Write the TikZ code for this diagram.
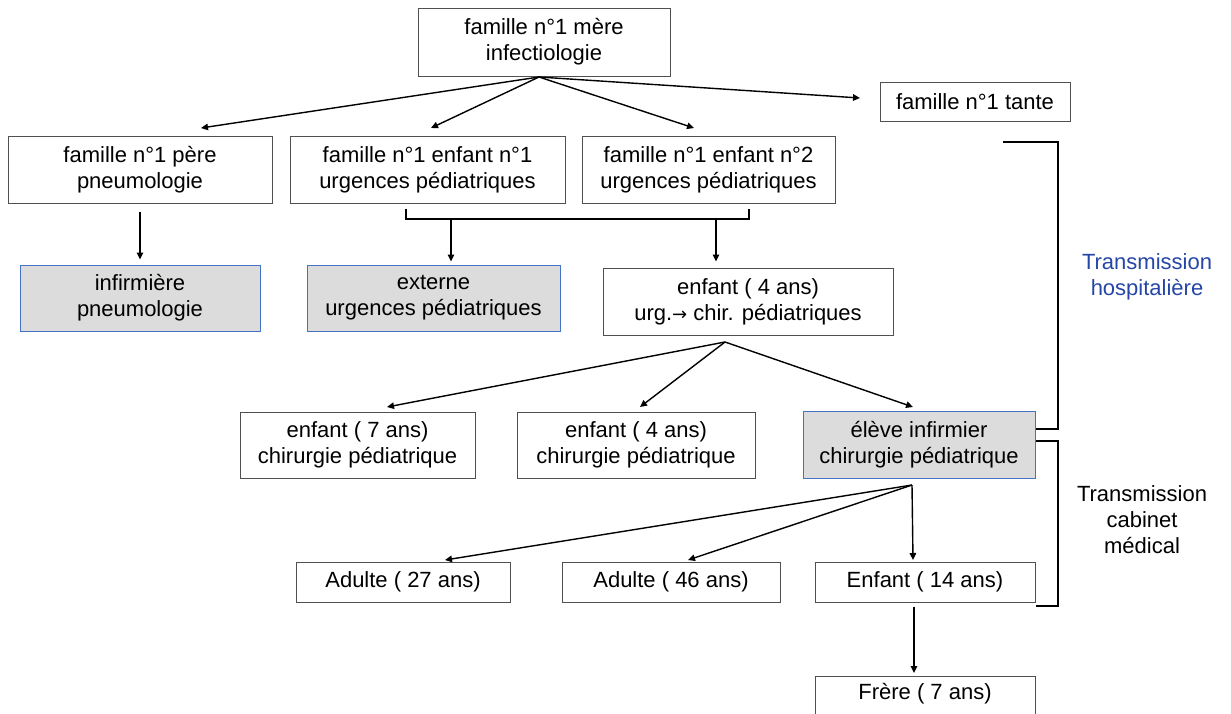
\documentclass[tikz,border=0pt]{standalone}
\usepackage{fontspec}
\setmainfont{Liberation Sans}
\newfontfamily\symfont{DejaVu Sans}
\usepackage{xcolor}
\usetikzlibrary{arrows.meta,positioning,calc}
\definecolor{boxgray}{HTML}{505050}
\definecolor{boxblue}{HTML}{4472C4}
\definecolor{boxfill}{HTML}{DCDCDC}
\definecolor{transblue}{HTML}{2546A6}

\begin{document}
\begin{tikzpicture}[
  x=1pt,y=-1pt,
  box/.style={draw=boxgray,line width=1pt,fill=white,align=center,inner sep=0pt,font=\fontsize{22}{26}\selectfont},
  gbox/.style={box,draw=boxblue,fill=boxfill},
  arr/.style={-{Triangle[length=7pt,width=6.5pt]},line width=1.4pt,black},
  brk/.style={line width=1.4pt,black},
  lbl/.style={align=center,font=\fontsize{22}{26}\selectfont}
]
\useasboundingbox (0,0) rectangle (1231,713);

% Famille n°1
\node[box,minimum width=252pt,minimum height=68pt] (mere) at (544,42) {famille n°1 mère\\infectiologie};
\node[box,minimum width=190pt,minimum height=39pt] (tante) at (975,101.5) {famille n°1 tante};
\node[box,minimum width=264pt,minimum height=67pt] (pere) at (140,169.5) {famille n°1 père\\pneumologie};
\node[box,minimum width=275pt,minimum height=67pt] (enf1) at (427.5,169.5) {famille n°1 enfant n°1\\urgences pédiatriques};
\node[box,minimum width=253pt,minimum height=67pt] (enf2) at (708.5,169.5) {famille n°1 enfant n°2\\urgences pédiatriques};

% Second niveau
\node[gbox,minimum width=240pt,minimum height=66pt] (infirm) at (140,298) {infirmière\\pneumologie};
\node[gbox,minimum width=253pt,minimum height=66pt] (externe) at (433.5,298) {externe\\urgences pédiatriques};
\node[box,minimum width=290pt,minimum height=67pt] (enf4urg) at (748,301.5) {enfant ( 4 ans)\\urg.{\symfont\fontsize{18}{26}\selectfont →} chir. pédiatriques};

% Chirurgie pédiatrique
\node[box,minimum width=235pt,minimum height=66pt] (enf7) at (357.5,445) {enfant ( 7 ans)\\chirurgie pédiatrique};
\node[box,minimum width=238pt,minimum height=66pt] (enf4chir) at (636,445) {enfant ( 4 ans)\\chirurgie pédiatrique};
\node[gbox,minimum width=232pt,minimum height=67pt] (eleve) at (919,444.5) {élève infirmier\\chirurgie pédiatrique};

% Cabinet medical
\node[box,minimum width=214pt,minimum height=40pt] (ad27) at (403,582) {Adulte ( 27 ans)};
\node[box,minimum width=218pt,minimum height=40pt] (ad46) at (671,582) {Adulte ( 46 ans)};
\node[box,minimum width=220pt,minimum height=40pt] (enf14) at (925,582) {Enfant ( 14 ans)};
\node[box,minimum width=220pt,minimum height=56pt,anchor=north,text depth=26pt] (frere) at (925,676) {Frère ( 7 ans)};

% Labels
\node[lbl,text=transblue] (hosp) at (1147,277) {Transmission\\hospitalière};
\node[lbl] (cab) at (1142,520) {Transmission\\cabinet\\médical};

% arrow ends
\coordinate (mere-o) at (539,77);
\coordinate (pere-in) at (201,128);
\coordinate (enf1-in) at (431,128);
\coordinate (enf2-in) at (694,128);
\coordinate (tante-in) at (860,98);
\coordinate (brk-l) at (406,219);
\coordinate (brk-r) at (749,219);
\coordinate (enf4-o) at (725,342);
\coordinate (eleve-o) at (912,485);

\draw[arr] (mere-o) -- (pere-in);
\draw[arr] (mere-o) -- (enf1-in);
\draw[arr] (mere-o) -- (enf2-in);
\draw[arr] (mere-o) -- (tante-in);
\draw[arr] ([yshift=-8pt]pere.south) -- ([yshift=5pt]infirm.north);

% bracket under enfants
\draw[brk] ([yshift=-5pt]brk-l |- enf1.south) -- (brk-l) -- (brk-r) -- ([yshift=-5pt]brk-r |- enf2.south);
\draw[arr] (brk-l -| 451,0) -- ([yshift=3pt]451,0 |- externe.north);
\draw[arr] (brk-r -| 716,0) -- ([yshift=6pt]716,0 |- enf4urg.north);

\draw[arr] (enf4-o) -- (387,407);
\draw[arr] (enf4-o) -- (640,407);
\draw[arr] (enf4-o) -- (913,407);

\draw[arr] (eleve-o) -- (445,560);
\draw[arr] (eleve-o) -- (688,560);
\draw[arr] (eleve-o) -- (913,560);
\draw[arr] ([xshift=-11pt,yshift=-4pt]enf14.south) -- ([xshift=-11pt,yshift=3pt]frere.north);

% brackets on the right
\draw[brk] (1003,142) -- (1058,142) -- (1058,429) -- (eleve.east |- 0,429);
\draw[brk] (eleve.east |- 0,441) -- (1058,441) -- (1058,606) -- (enf14.east |- 0,606);
\end{tikzpicture}
\end{document}
